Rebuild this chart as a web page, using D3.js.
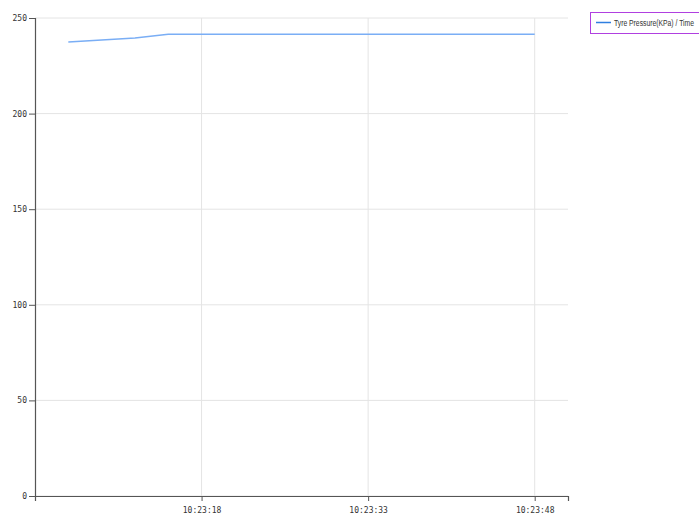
<!DOCTYPE html>
<html><head><meta charset="utf-8">
<script src="https://cdn.jsdelivr.net/npm/d3@7"></script>
<style>
html,body{margin:0;padding:0;background:#fff;}
svg{display:block;}
.tick text{font-family:"DejaVu Sans Mono","Liberation Mono",monospace;font-size:8px;fill:#333;}
</style></head>
<body><svg id="c" width="699" height="515"></svg>
<script>
const times = ["10:23:06","10:23:12","10:23:15","10:23:48"];
const pressures = [237.5, 239.5, 241.5, 241.5];
const yTicks = [0, 50, 100, 150, 200, 250];
const xTickLabels = ["10:23:18","10:23:33","10:23:48"];
const xDomainLabels = ["10:23:03","10:23:51"];
const seriesName = "Tyre Pressure(KPa) / Time";

const parse = d3.timeParse("%H:%M:%S");
const data = times.map((t,i)=>({t:parse(t), v:pressures[i]}));

const svg = d3.select("#c");
const m = {l:35, r:131, t:18, b:19};
const W = 699, H = 515;
const x = d3.scaleTime().domain(xDomainLabels.map(parse)).range([m.l, W-m.r]);
const y = d3.scaleLinear().domain([0,250]).range([H-m.b, m.t]);

// gridlines
const g = svg.append("g");
g.selectAll("line.h").data(yTicks).join("line")
  .attr("x1", m.l).attr("x2", W-m.r)
  .attr("y1", d=>y(d)).attr("y2", d=>y(d))
  .attr("stroke", "#e4e4e4").attr("stroke-width",1);
g.selectAll("line.v").data(xTickLabels.map(parse)).join("line")
  .attr("x1", d=>x(d)).attr("x2", d=>x(d))
  .attr("y1", m.t).attr("y2", H-m.b)
  .attr("stroke", "#e4e4e4").attr("stroke-width",1);

// axes
const xa = svg.append("g").attr("transform",`translate(0,${H-m.b})`)
  .call(d3.axisBottom(x).tickValues(xTickLabels.map(parse)).tickFormat(d3.timeFormat("%H:%M:%S")).tickSizeOuter(0).tickSize(5));
const ya = svg.append("g").attr("transform",`translate(${m.l},0)`)
  .call(d3.axisLeft(y).tickValues(yTicks).tickSizeOuter(0).tickSize(6));
[xa,ya].forEach(a=>{
  a.select(".domain").attr("stroke","#555").attr("stroke-width",1.2);
  a.selectAll(".tick line").attr("stroke","#555");
});
xa.selectAll(".tick text").attr("dy","1.1em");
ya.selectAll(".tick text").attr("x",-8).attr("dy","0.32em");

// line
svg.append("path").datum(data)
  .attr("fill","none").attr("stroke","#7aaef5").attr("stroke-width",1.5)
  .attr("d", d3.line().x(d=>x(d.t)).y(d=>y(d.v)));

// legend
const lg = svg.append("g");
lg.append("rect").attr("x",590.5).attr("y",12.5).attr("width",115).attr("height",21)
  .attr("fill","#fff").attr("stroke","#b040e0").attr("stroke-width",1);
lg.append("line").attr("x1",596).attr("x2",611).attr("y1",22.5).attr("y2",22.5)
  .attr("stroke","#2f7fe0").attr("stroke-width",1.5);
const lt = lg.append("text").attr("x",0).attr("y",0).text(seriesName)
  .attr("font-family","'Liberation Sans',Arial,sans-serif")
  .attr("font-size",9).attr("fill","#333");
const natural = lt.node().getComputedTextLength();
const sx = 80 / natural;
lt.attr("transform",`translate(614,25.5) scale(${sx},1)`);
</script></body></html>
